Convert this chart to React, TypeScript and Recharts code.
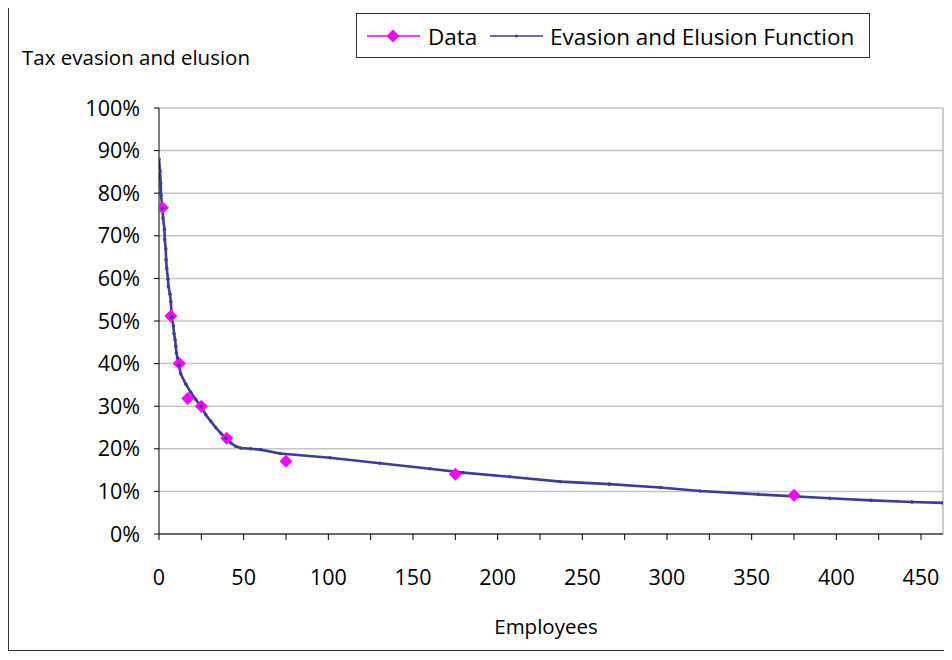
import React from "react";
import { ComposedChart, Line, Scatter, XAxis, YAxis, CartesianGrid, ReferenceLine, Label } from "recharts";

// survey points (employees, share evading)
const dataEmployees = [2, 7, 12, 17, 25, 40, 75, 175, 375];
const dataRate = [76.6, 51.2, 40, 31.8, 30, 22.5, 17.1, 14, 9.1];

// fitted curve
const fnEmployees = [
  0, 0.6, 1, 1.2, 2, 2.4, 3.2, 3.4, 4, 4.2, 4.6, 5.3, 5.6, 6.5, 7, 7.5, 8.5, 8.9, 9.5, 9.9,
  10.3, 10.9, 11.8, 12.8, 15.8, 18.7, 21.7, 24.6, 27.6, 30.5, 33.5, 36.4, 39.4, 42.3, 45.3, 48.2,
  54, 60, 71.5, 101, 130.5, 160, 179.6, 207, 237, 266, 296, 319.6, 354, 396, 420.5, 444.7, 463,
];
const fnRate = [
  88, 85.2, 82.3, 79.5, 76.4, 74.2, 71.5, 69.1, 66.9, 64.4, 62.3, 59.8, 58.1, 56.3, 54.5, 50.9, 48.8, 47, 45.6, 44.1,
  42.5, 41.3, 39.7, 37.6, 35.2, 33.3, 31.6, 30, 28, 26.5, 25, 23.7, 22.5, 21.4, 20.6, 20.2,
  20, 19.8, 18.9, 17.9, 16.6, 15.3, 14.4, 13.45, 12.3, 11.7, 10.9, 10.1, 9.3, 8.4, 7.9, 7.5, 7.3,
];

const xTicks = [0, 25, 50, 75, 100, 125, 150, 175, 200, 225, 250, 275, 300, 325, 350, 375, 400, 425, 450];
const yTicks = [0, 10, 20, 30, 40, 50, 60, 70, 80, 90, 100];

const MAGENTA = "#ff00ff";
const NAVY = "#3d3d99";
const FONT = "'Open Sans', sans-serif";

const points = dataEmployees.map((x, i) => ({ x, y: dataRate[i] }));
const curve = fnEmployees.map((x, i) => ({ x, y: fnRate[i] }));

const Diamond = (props: any) => {
  const { cx, cy } = props;
  const s = 6.5;
  return <polygon points={`${cx},${cy - s} ${cx + s},${cy} ${cx},${cy + s} ${cx - s},${cy}`} fill={MAGENTA} />;
};

export default function App() {
  return (
    <div
      style={{
        position: "relative",
        width: 943,
        height: 643,
        boxSizing: "border-box",
        borderLeft: "1px solid #333",
        borderRight: "1px solid #333",
        borderBottom: "1px solid #333",
        fontFamily: FONT,
      }}
    >
      <ComposedChart width={941} height={642} margin={{ top: 100, right: 7, bottom: 26, left: 0 }}>
        <CartesianGrid horizontal vertical={false} stroke="#c4c4c4" strokeWidth={1.5} />
        <XAxis
          type="number"
          dataKey="x"
          domain={[0, 463]}
          ticks={xTicks}
          interval={0}
          allowDataOverflow
          height={90}
          stroke="#000"
          tickSize={6}
          tickMargin={30}
          tick={{ fill: "#000", fontSize: 21.5, fontFamily: FONT }}
          tickFormatter={(v: number) => (v % 50 === 0 ? String(v) : "")}
        >
          <Label
            content={({ viewBox }: any) => (
              <text
                x={viewBox.x + viewBox.width / 2 - 5}
                y={viewBox.y + 92}
                textAnchor="middle"
                dominantBaseline="central"
                fontSize={20.5}
                fontFamily={FONT}
                fill="#000"
              >
                Employees
              </text>
            )}
          />
        </XAxis>
        <YAxis
          type="number"
          domain={[0, 100]}
          ticks={yTicks}
          interval={0}
          width={150}
          stroke="#000"
          tickSize={5}
          tickMargin={14}
          tick={{ fill: "#000", fontSize: 21.5, fontFamily: FONT }}
          tickFormatter={(v: number) => `${v}%`}
        >
          <Label
            content={({ viewBox }: any) => (
              <text
                x={13}
                y={viewBox.y - 51}
                dominantBaseline="central"
                fontSize={20.5}
                fontFamily={FONT}
                fill="#000"
              >
                Tax evasion and elusion
              </text>
            )}
          />
        </YAxis>
        <ReferenceLine x={463} stroke="#bdbdbd" strokeWidth={1.5} />
        <Scatter data={points} dataKey="y" shape={<Diamond />} isAnimationActive={false} />
        <Line
          data={curve}
          dataKey="y"
          type="linear"
          stroke={NAVY}
          strokeWidth={2.6}
          dot={{ r: 1.8, fill: NAVY, stroke: "none" }}
          activeDot={false}
          isAnimationActive={false}
        />
      </ComposedChart>
      <div
        style={{
          position: "absolute",
          left: 347,
          top: 5,
          width: 514,
          height: 45,
          boxSizing: "border-box",
          border: "1px solid #333",
          background: "#fff",
        }}
      >
        <svg width={512} height={43} style={{ position: "absolute", left: 0, top: 0 }}>
          <line x1={10} x2={63} y1={22} y2={22} stroke={MAGENTA} strokeWidth={1.5} />
          <polygon points="36,15.5 42.5,22 36,28.5 29.5,22" fill={MAGENTA} />
          <text x={71} y={22} dominantBaseline="central" fontSize={22.5} fontFamily={FONT} fill="#000">
            Data
          </text>
          <line x1={133} x2={186} y1={22} y2={22} stroke={NAVY} strokeWidth={1.5} />
          <circle cx={159.5} cy={22} r={1.6} fill={NAVY} />
          <text x={193} y={22} dominantBaseline="central" fontSize={22.5} fontFamily={FONT} fill="#000">
            Evasion and Elusion Function
          </text>
        </svg>
      </div>
    </div>
  );
}
